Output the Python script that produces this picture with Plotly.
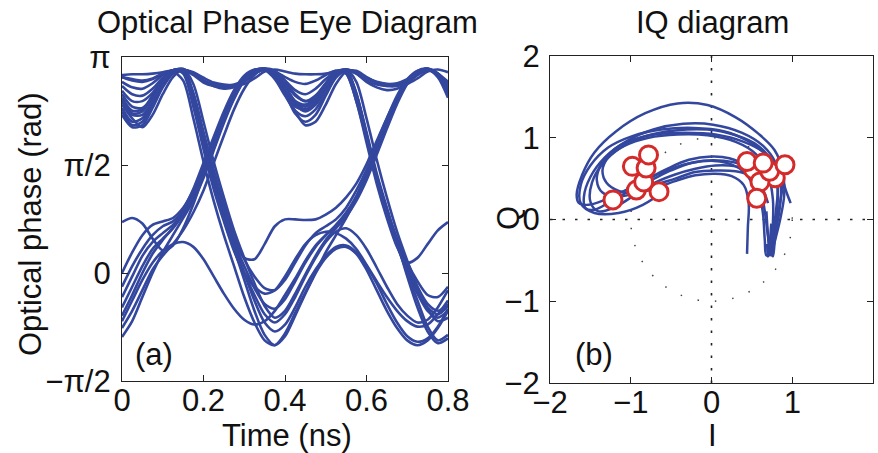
import math
import plotly.graph_objects as go

# ---------------- data: eye diagram (optical phase, rad) ----------------
TIME_NS = [0.000, 0.025, 0.050, 0.075, 0.100, 0.125, 0.150, 0.175, 0.200, 0.225,
           0.250, 0.275, 0.300, 0.325, 0.350, 0.375, 0.400, 0.425, 0.450, 0.475,
           0.500, 0.525, 0.550, 0.575, 0.600, 0.625, 0.650, 0.675, 0.700, 0.725,
           0.750, 0.775, 0.800]

PHASE_TRACES = [
    [2.88, 2.89, 2.89, 2.90, 2.92, 2.95, 2.96, 2.92, 2.84, 2.77, 2.74, 2.73, 2.75, 2.83, 2.93, 2.96, 2.93,
     2.90, 2.89, 2.89, 2.90, 2.94, 2.96, 2.92, 2.84, 2.77, 2.74, 2.73, 2.75, 2.83, 2.93, 2.96, 2.92],
    [2.55, 2.36, 2.38, 2.58, 2.80, 2.93, 2.96, 2.90, 2.80, 2.72, 2.68, 2.70, 2.78, 2.90, 2.97, 2.88, 2.68,
     2.45, 2.35, 2.45, 2.68, 2.88, 2.96, 2.90, 2.78, 2.70, 2.66, 2.68, 2.76, 2.88, 2.96, 2.86, 2.62],
    [2.35, 2.15, 2.20, 2.46, 2.74, 2.91, 2.96, 2.90, 2.80, 2.74, 2.72, 2.74, 2.80, 2.90, 2.96, 2.92, 2.80,
     2.66, 2.60, 2.68, 2.82, 2.93, 2.90, 2.50, 1.95, 1.38, 0.90, 0.48, 0.12, -0.20, -0.45, -0.55, -0.45],
    [2.78, 2.70, 2.68, 2.76, 2.88, 2.95, 2.96, 2.88, 2.77, 2.72, 2.70, 2.72, 2.79, 2.90, 2.96, 2.90, 2.72,
     2.50, 2.42, 2.52, 2.74, 2.92, 2.95, 2.60, 2.05, 1.45, 0.95, 0.45, -0.05, -0.50, -0.85, -1.02, -0.95],
    [2.45, 2.25, 2.12, 2.30, 2.60, 2.85, 2.95, 2.55, 1.95, 1.38, 0.88, 0.45, 0.10, -0.22, -0.45, -0.52, -0.38,
     -0.12, 0.15, 0.38, 0.55, 0.70, 0.88, 1.12, 1.45, 1.82, 2.20, 2.55, 2.80, 2.93, 2.97, 2.88, 2.65],
    [2.55, 2.32, 2.35, 2.58, 2.82, 2.94, 2.93, 2.50, 1.88, 1.30, 0.80, 0.35, -0.10, -0.55, -0.90, -1.05, -0.92,
     -0.62, -0.30, 0.00, 0.30, 0.55, 0.80, 1.08, 1.40, 1.78, 2.15, 2.50, 2.78, 2.92, 2.97, 2.90, 2.70],
    [2.65, 2.50, 2.50, 2.62, 2.82, 2.95, 2.90, 2.42, 1.80, 1.22, 0.75, 0.32, 0.00, -0.20, -0.30, -0.25, -0.05,
     0.20, 0.42, 0.55, 0.60, 0.58, 0.50, 0.35, 0.12, -0.12, -0.35, -0.55, -0.70, -0.78, -0.75, -0.60, -0.40],
    [2.85, 2.80, 2.78, 2.82, 2.90, 2.95, 2.96, 2.60, 2.00, 1.40, 0.90, 0.42, 0.00, -0.40, -0.72, -0.85, -0.75,
     -0.50, -0.20, 0.05, 0.25, 0.38, 0.40, 0.30, 0.10, -0.15, -0.45, -0.72, -0.92, -1.00, -0.95, -0.78, -0.52],
    [-0.93, -0.70, -0.35, 0.00, 0.30, 0.55, 0.80, 1.05, 1.38, 1.78, 2.18, 2.53, 2.80, 2.93, 2.97, 2.90, 2.72,
     2.48, 2.38, 2.45, 2.68, 2.88, 2.95, 2.90, 2.80, 2.74, 2.72, 2.74, 2.80, 2.90, 2.95, 2.90, 2.75],
    [-0.50, -0.20, 0.10, 0.35, 0.50, 0.65, 0.85, 1.10, 1.42, 1.82, 2.22, 2.56, 2.82, 2.94, 2.97, 2.88, 2.65,
     2.35, 2.15, 2.20, 2.45, 2.75, 2.93, 2.94, 2.85, 2.77, 2.72, 2.72, 2.78, 2.88, 2.95, 2.88, 2.62],
    [-0.20, 0.10, 0.35, 0.55, 0.68, 0.75, 0.90, 1.15, 1.50, 1.88, 2.25, 2.58, 2.83, 2.95, 2.97, 2.87, 2.62,
     2.32, 2.20, 2.30, 2.58, 2.84, 2.94, 2.55, 1.95, 1.35, 0.85, 0.40, 0.02, -0.30, -0.55, -0.65, -0.55],
    [0.00, 0.30, 0.55, 0.70, 0.75, 0.80, 0.95, 1.20, 1.55, 1.92, 2.30, 2.62, 2.85, 2.95, 2.96, 2.85, 2.60,
     2.42, 2.38, 2.48, 2.70, 2.90, 2.95, 2.62, 2.02, 1.42, 0.92, 0.50, 0.15, -0.12, -0.32, -0.35, -0.20],
    [-0.70, -0.40, -0.10, 0.15, 0.32, 0.42, 0.45, 0.38, 0.20, -0.05, -0.30, -0.52, -0.68, -0.75, -0.70, -0.55,
     -0.32, -0.08, 0.18, 0.40, 0.55, 0.68, 0.85, 1.10, 1.42, 1.80, 2.20, 2.55, 2.80, 2.94, 2.97, 2.88, 2.60],
    [0.74, 0.80, 0.72, 0.50, 0.33, 0.40, 0.65, 1.00, 1.42, 1.82, 2.22, 2.56, 2.82, 2.94, 2.97, 2.90, 2.70,
     2.50, 2.45, 2.55, 2.76, 2.92, 2.95, 2.60, 2.00, 1.40, 0.90, 0.45, 0.08, -0.25, -0.50, -0.60, -0.48],
    [2.60, 2.42, 2.40, 2.55, 2.78, 2.93, 2.95, 2.60, 2.02, 1.45, 0.95, 0.52, 0.22, 0.20, 0.42, 0.68, 0.78,
     0.78, 0.77, 0.78, 0.85, 0.95, 1.10, 1.30, 1.58, 1.92, 2.25, 2.55, 2.80, 2.93, 2.97, 2.88, 2.68],
    [2.85, 2.82, 2.80, 2.83, 2.90, 2.95, 2.96, 2.90, 2.79, 2.73, 2.71, 2.73, 2.80, 2.90, 2.96, 2.93, 2.85,
     2.78, 2.75, 2.80, 2.88, 2.94, 2.90, 2.50, 1.90, 1.30, 0.80, 0.38, 0.15, 0.22, 0.42, 0.62, 0.74],
    [2.30, 2.12, 2.15, 2.40, 2.70, 2.90, 2.96, 2.62, 2.05, 1.50, 1.00, 0.55, 0.20, -0.05, -0.22, -0.25, -0.10,
     0.15, 0.40, 0.58, 0.68, 0.78, 0.95, 1.20, 1.50, 1.88, 2.25, 2.58, 2.82, 2.94, 2.96, 2.85, 2.55],
    [-0.35, -0.05, 0.25, 0.45, 0.58, 0.70, 0.88, 1.12, 1.45, 1.85, 2.22, 2.55, 2.80, 2.93, 2.96, 2.90, 2.75,
     2.58, 2.50, 2.58, 2.76, 2.92, 2.95, 2.58, 1.98, 1.38, 0.88, 0.42, 0.00, -0.40, -0.78, -0.98, -0.90],
    [2.40, 2.20, 2.25, 2.50, 2.76, 2.92, 2.94, 2.48, 1.85, 1.28, 0.78, 0.35, 0.00, -0.32, -0.60, -0.72, -0.60,
     -0.35, -0.05, 0.22, 0.45, 0.60, 0.65, 0.55, 0.35, 0.08, -0.20, -0.45, -0.62, -0.72, -0.68, -0.50, -0.25],
    [2.72, 2.60, 2.58, 2.68, 2.84, 2.94, 2.97, 2.75, 2.20, 1.62, 1.10, 0.62, 0.22, -0.15, -0.48, -0.65, -0.55,
     -0.30, -0.02, 0.25, 0.48, 0.65, 0.82, 1.05, 1.35, 1.72, 2.10, 2.46, 2.75, 2.91, 2.97, 2.90, 2.72],
    [-0.62, -0.32, 0.00, 0.28, 0.48, 0.66, 0.92, 1.22, 1.60, 1.98, 2.35, 2.66, 2.87, 2.96, 2.95, 2.82, 2.58,
     2.36, 2.28, 2.38, 2.62, 2.86, 2.96, 2.78, 2.25, 1.65, 1.10, 0.60, 0.18, -0.20, -0.52, -0.70, -0.65],
    [2.50, 2.30, 2.30, 2.52, 2.78, 2.92, 2.80, 2.25, 1.62, 1.05, 0.55, 0.10, -0.35, -0.72, -0.98, -1.05, -0.88,
     -0.58, -0.28, 0.00, 0.22, 0.35, 0.38, 0.28, 0.05, -0.25, -0.55, -0.80, -0.98, -1.05, -0.98, -0.80, -0.55],
    [-0.80, -0.55, -0.25, 0.05, 0.25, 0.42, 0.62, 0.88, 1.20, 1.60, 2.00, 2.38, 2.68, 2.88, 2.97, 2.94, 2.80,
     2.60, 2.50, 2.55, 2.72, 2.90, 2.96, 2.92, 2.84, 2.78, 2.75, 2.76, 2.82, 2.90, 2.95, 2.90, 2.78],
]

# ---------------- data: IQ diagram ----------------
IQ_I_TRACES = [
    [0.60, 0.55, 0.42, 0.22, 0.00, -0.28, -0.55, -0.82, -1.08, -1.32, -1.52, -1.64, -1.67, -1.60, -1.45,
     -1.18, -0.82, -0.42, -0.05, 0.30, 0.58, 0.78, 0.88, 0.90, 0.85, 0.78, 0.74, 0.72, 0.70, 0.68],
    [0.55, 0.50, 0.38, 0.20, 0.00, -0.25, -0.50, -0.75, -1.00, -1.25, -1.45, -1.56, -1.58, -1.50, -1.32,
     -1.05, -0.72, -0.35, 0.02, 0.38, 0.64, 0.80, 0.86, 0.84, 0.78, 0.72, 0.68, 0.66, 0.64, 0.60],
    [0.65, 0.60, 0.48, 0.30, 0.05, -0.20, -0.45, -0.70, -0.95, -1.20, -1.40, -1.50, -1.48, -1.35, -1.12,
     -0.82, -0.45, -0.05, 0.30, 0.58, 0.75, 0.82, 0.80, 0.76, 0.72, 0.70, 0.72, 0.74],
    [0.70, 0.62, 0.50, 0.30, 0.05, -0.20, -0.45, -0.70, -0.95, -1.18, -1.35, -1.42, -1.38, -1.25, -1.02,
     -0.70, -0.32, 0.05, 0.40, 0.65, 0.80, 0.88, 0.93, 0.98],
    [0.44, 0.45, 0.46, 0.40, 0.25, 0.05, -0.20, -0.45, -0.70, -0.95, -1.15, -1.30, -1.35, -1.28, -1.08,
     -0.78, -0.42, -0.05, 0.30, 0.55, 0.70, 0.76, 0.76, 0.74, 0.72],
    [-0.55, -0.85, -1.15, -1.45, -1.62, -1.62, -1.50, -1.28, -0.98, -0.62, -0.22, 0.15, 0.45, 0.68, 0.80,
     0.82, 0.78, 0.73, 0.70, 0.69],
    [0.90, 0.88, 0.84, 0.80, 0.78, 0.76, 0.74, 0.70, 0.66, 0.60, 0.50, 0.35, 0.15, -0.10, -0.35, -0.60,
     -0.85, -1.05],
]
IQ_Q_TRACES = [
    [0.30, 0.50, 0.66, 0.75, 0.77, 0.73, 0.62, 0.48, 0.35, 0.24, 0.18, 0.20, 0.30, 0.55, 0.82,
     1.08, 1.30, 1.42, 1.40, 1.25, 1.05, 0.85, 0.60, 0.30, 0.00, -0.28, -0.43, -0.40, -0.20, 0.10],
    [0.25, 0.45, 0.60, 0.69, 0.72, 0.69, 0.60, 0.48, 0.36, 0.22, 0.12, 0.14, 0.28, 0.52, 0.76,
     0.96, 1.10, 1.17, 1.16, 1.06, 0.90, 0.68, 0.40, 0.10, -0.20, -0.42, -0.44, -0.25, 0.05, 0.30],
    [0.30, 0.48, 0.60, 0.65, 0.66, 0.62, 0.55, 0.45, 0.30, 0.15, 0.10, 0.22, 0.45, 0.68, 0.88,
     1.02, 1.09, 1.10, 1.03, 0.90, 0.70, 0.42, 0.12, -0.18, -0.40, -0.45, -0.30, -0.05],
    [0.20, 0.40, 0.53, 0.59, 0.60, 0.58, 0.50, 0.42, 0.32, 0.28, 0.33, 0.48, 0.65, 0.82, 0.96,
     1.04, 1.06, 1.04, 0.95, 0.82, 0.65, 0.48, 0.33, 0.20],
    [-0.42, -0.10, 0.20, 0.42, 0.53, 0.56, 0.54, 0.47, 0.38, 0.32, 0.35, 0.45, 0.60, 0.76, 0.90,
     1.00, 1.04, 1.03, 0.95, 0.80, 0.55, 0.25, -0.05, -0.30, -0.45],
    [0.38, 0.18, 0.08, 0.08, 0.20, 0.42, 0.66, 0.88, 1.02, 1.10, 1.12, 1.08, 0.96, 0.78, 0.52,
     0.22, -0.10, -0.35, -0.45, -0.30],
    [0.62, 0.40, 0.15, -0.10, -0.30, -0.45, -0.42, -0.20, 0.10, 0.40, 0.58, 0.68, 0.72, 0.72, 0.67, 0.58,
     0.47, 0.38],
]

SAMPLE_I = [-1.22, -0.93, -0.65, -0.84, -0.98, -0.81, -0.78,
            0.52, 0.79, 0.60, 0.56, 0.72, 0.44, 0.64, 0.91]
SAMPLE_Q = [0.24, 0.36, 0.34, 0.46, 0.65, 0.63, 0.79,
            0.61, 0.51, 0.46, 0.26, 0.59, 0.71, 0.69, 0.67]

PHASE_TICK_VALS = [-math.pi / 2, 0, math.pi / 2, math.pi]
PHASE_TICK_TEXT = ["\u2212\u03c0/2", "0", "\u03c0/2", "\u03c0"]
TIME_TICK_VALS = [0, 0.2, 0.4, 0.6, 0.8]
TIME_TICK_TEXT = ["0", "0.2", "0.4", "0.6", "0.8"]
IQ_TICK_VALS = [-2, -1, 0, 1, 2]
IQ_TICK_TEXT = ["\u22122", "\u22121", "0", "1", "2"]

# ---------------- styling ----------------
BLUE = "#34479e"
RED = "#d42a2a"
FONT = "Liberation Sans, Arial, Helvetica, sans-serif"
W, H = 878, 453
FS = 31

fig = go.Figure()

for tr in PHASE_TRACES:
    fig.add_trace(go.Scatter(x=TIME_NS, y=tr, mode="lines", xaxis="x", yaxis="y",
                             line=dict(color=BLUE, width=2.6, shape="spline", smoothing=0.8),
                             hoverinfo="skip", showlegend=False))

for xi, yq in zip(IQ_I_TRACES, IQ_Q_TRACES):
    fig.add_trace(go.Scatter(x=xi, y=yq, mode="lines", xaxis="x2", yaxis="y2",
                             line=dict(color=BLUE, width=2.5, shape="spline", smoothing=1.0),
                             hoverinfo="skip", showlegend=False))

fig.add_trace(go.Scatter(x=SAMPLE_I, y=SAMPLE_Q, mode="markers", xaxis="x2", yaxis="y2",
                         marker=dict(symbol="circle", size=18, color="white",
                                     line=dict(color=RED, width=3)),
                         hoverinfo="skip", showlegend=False))

def px_x(p):
    return p / W

def px_y(p):
    return 1 - p / H

axis_common = dict(showline=True, linecolor="#222", linewidth=1.3, mirror="ticks",
                   ticks="inside", ticklen=6, tickwidth=1.2, tickcolor="#222",
                   showgrid=False, zeroline=False, automargin=False,
                   tickfont=dict(family=FONT, size=FS, color="#111"))

fig.update_layout(
    width=W, height=H,
    margin=dict(l=0, r=0, t=0, b=0, autoexpand=False),
    paper_bgcolor="white", plot_bgcolor="white",
    xaxis=dict(domain=[px_x(122), px_x(448)], range=[0, 0.8], anchor="y",
               tickvals=TIME_TICK_VALS, ticktext=TIME_TICK_TEXT, ticklabelstandoff=-8,
               **axis_common),
    yaxis=dict(domain=[px_y(381), px_y(57)], range=[-math.pi / 2, math.pi], anchor="x",
               tickvals=PHASE_TICK_VALS, ticktext=PHASE_TICK_TEXT, ticklabelstandoff=4,
               **axis_common),
    xaxis2=dict(domain=[px_x(550), px_x(873)], range=[-2, 2], anchor="y2",
                tickvals=IQ_TICK_VALS, ticktext=IQ_TICK_TEXT, ticklabelstandoff=-8,
                **axis_common),
    yaxis2=dict(domain=[px_y(383), px_y(56)], range=[-2, 2], anchor="x2",
                tickvals=IQ_TICK_VALS, ticktext=IQ_TICK_TEXT, ticklabelstandoff=3,
                **axis_common),
    shapes=[
        dict(type="line", xref="x2", yref="y2", x0=-2, x1=2, y0=0, y1=0, layer="below",
             line=dict(color="#222", width=1.6, dash="2.5px,10px")),
        dict(type="line", xref="x2", yref="y2", x0=0, x1=0, y0=-2, y1=2, layer="below",
             line=dict(color="#222", width=1.6, dash="2.5px,10px")),
        dict(type="circle", xref="x2", yref="y2", x0=-1, x1=1, y0=-1, y1=1, layer="below",
             line=dict(color="#444", width=1.5, dash="1.5px,16px")),
    ],
)

def label(text, x, y, size=FS, angle=0):
    fig.add_annotation(text=text, xref="paper", yref="paper", x=px_x(x), y=px_y(y),
                       xanchor="center", yanchor="middle", showarrow=False, textangle=angle,
                       font=dict(family=FONT, size=size, color="#111"))

label("Optical Phase Eye Diagram", 287, 22)
label("IQ diagram", 712, 22)
label("Time (ns)", 287, 435)
label("I", 712, 435)
label("Optical phase (rad)", 30, 224, FS, -90)
label("Q", 508, 218, FS, -90)
label("(a)", 154, 354)
label("(b)", 594, 354)

# the page's default body margin would shift the figure; remove it
fig.write_html("out.html",
               config={"displayModeBar": False},
               post_script="document.body.style.margin='0';"
                           "document.documentElement.style.overflow='hidden';")
